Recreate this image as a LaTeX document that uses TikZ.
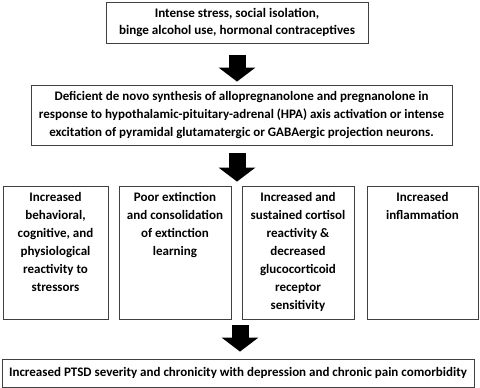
\documentclass[tikz,border=0pt]{standalone}
\usepackage{fontspec}
\setmainfont{Carlito}
\usepackage{tikz}
\usetikzlibrary{arrows.meta,calc}

\tikzset{
  box/.style={draw=black!75, line width=0.8pt, inner sep=2pt, align=center,
    font=\bfseries\fontsize{13}{18}\selectfont},
  toptext/.style={font=\bfseries\fontsize{13.1}{17}\selectfont},
  fatarrow/.style={line width=17pt, -{Triangle[width=36pt,length=14pt]}}
}
% text kept at the top of the tall boxes
\newcommand{\celltext}[2]{\parbox[c][125pt][t]{#1}{\centering\vspace*{2pt}#2}}

\begin{document}
\begin{tikzpicture}[x=1pt,y=-1pt]
    \useasboundingbox (0,0) rectangle (480,388);

    % causes
    \node[box, toptext, minimum width=262pt, minimum height=41pt] (cause) at (237,22.5)
        {Intense stress, social isolation,\\ binge alcohol use, hormonal contraceptives};

    % deficient synthesis
    \node[box, minimum width=421pt, minimum height=60pt] (synth) at (241.5,115)
        {Deficient de novo synthesis of allopregnanolone and pregnanolone in\\
         response to hypothalamic-pituitary-adrenal (HPA) axis activation or intense\\
         excitation of pyramidal glutamatergic or GABAergic projection neurons.};

    % consequences
    \node[box, minimum width=105pt, minimum height=133pt] (react) at (55.5,252.5)
        {\celltext{100pt}{Increased\\ behavioral,\\ cognitive, and\\ physiological\\ reactivity to\\ stressors}};
    \node[box, minimum width=112pt, minimum height=133pt] (extinct) at (175,252.5)
        {\celltext{107pt}{Poor extinction\\ and consolidation\\ of extinction\\ learning}};
    \node[box, minimum width=112pt, minimum height=133pt] (cortisol) at (298,252.5)
        {\celltext{107pt}{Increased and\\ sustained cortisol\\ reactivity \&\\ decreased\\ glucocorticoid\\ receptor\\ sensitivity}};
    \node[box, minimum width=111pt, minimum height=133pt] (inflam) at (422.5,252.5)
        {\celltext{106pt}{Increased\\ inflammation}};

    % outcome
    \node[box, minimum width=472pt, minimum height=28pt] (ptsd) at (238,373)
        {Increased PTSD severity and chronicity with depression and chronic pain comorbidity};

    % arrows
    \draw[fatarrow, shorten <=12pt, shorten >=3pt] (cause.south) -- (cause.south |- synth.north);
    \draw[fatarrow, shorten <=8pt, shorten >=4pt] ([xshift=-4.5pt]synth.south) -- ([xshift=-4.5pt]synth.south |- extinct.north);
    \draw[fatarrow, shorten <=6pt, shorten >=7pt] ([xshift=2pt]ptsd.north |- cortisol.south) -- ([xshift=2pt]ptsd.north);
\end{tikzpicture}
\end{document}
